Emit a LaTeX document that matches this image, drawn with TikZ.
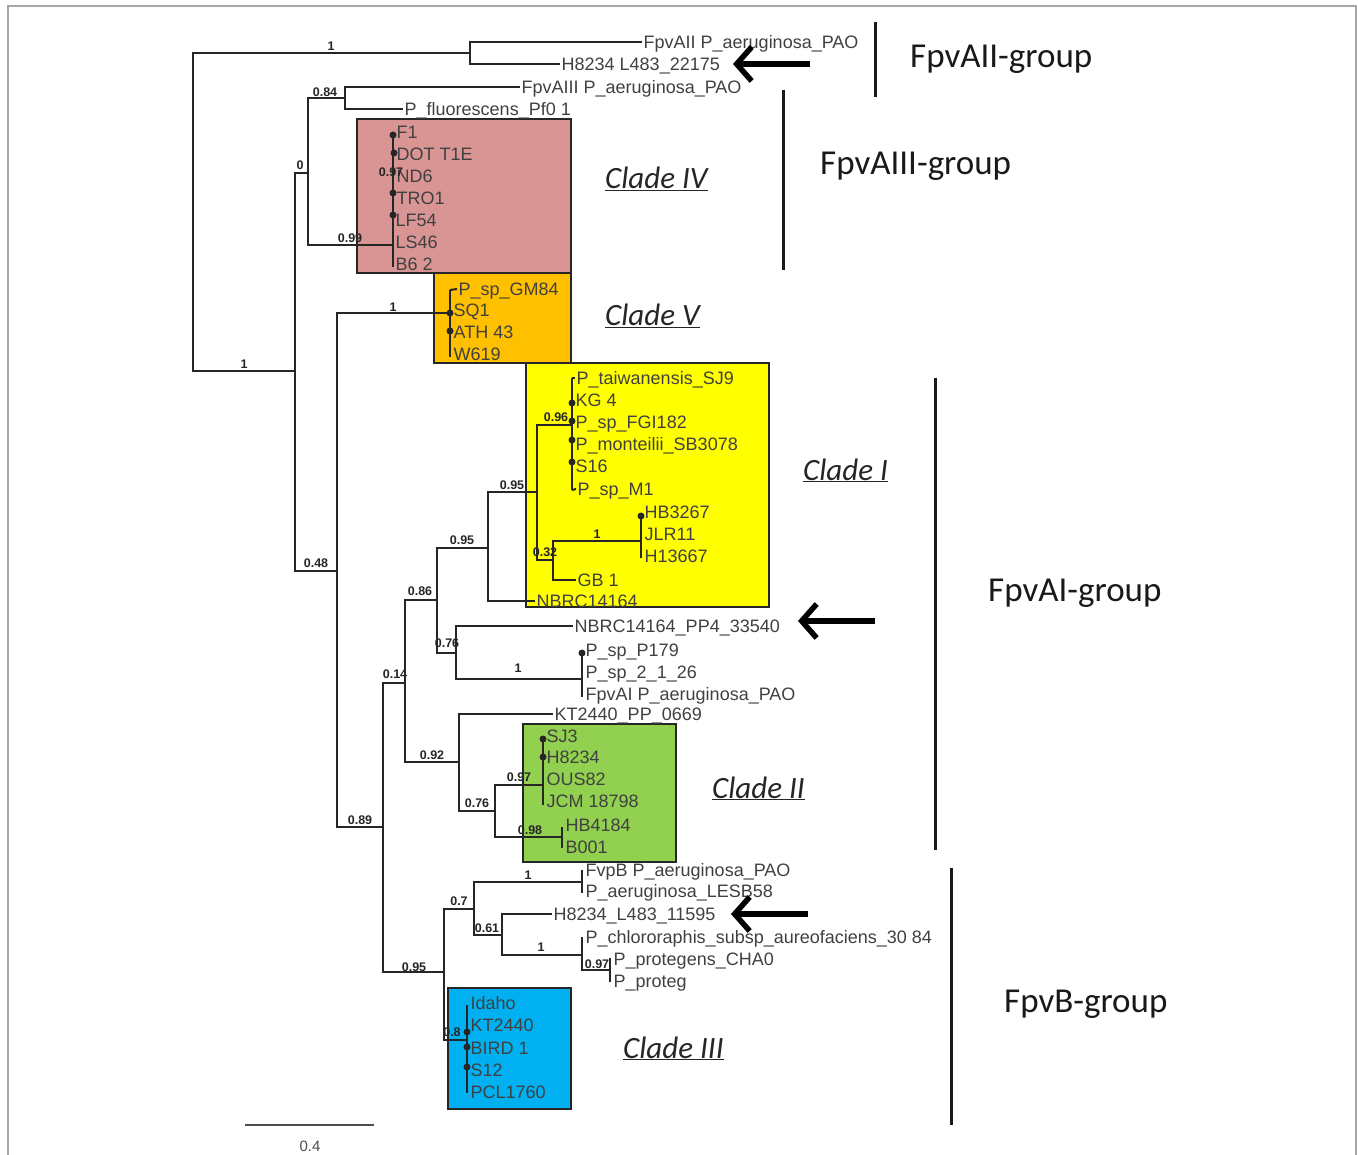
\documentclass[tikz,border=0pt]{standalone}
\usepackage{fontspec}
\setmainfont{Liberation Sans}
\newfontfamily\calfont{Carlito}
\usetikzlibrary{arrows.meta}
\begin{document}
\begin{tikzpicture}[x=1pt,y=-1pt,
  br/.style={line width=2pt, draw=black!85},
  leaf/.style={anchor=west, inner sep=1.5pt, text height=12.9pt, text depth=0pt, font=\fontsize{18}{18}\selectfont, text=black!75},
  sup/.style={font=\bfseries\fontsize{12.5}{12.5}\selectfont, inner sep=0pt, text=black!85},
  dotn/.style={circle, fill=black!85, inner sep=0pt, minimum size=7pt},
  cbox/.style={draw=black!85, line width=1.8pt},
  cladelab/.style={anchor=base west, inner sep=0pt, font=\calfont\itshape\fontsize{31}{31}\selectfont, text=black!85},
  grplab/.style={anchor=base west, inner sep=0pt, font=\calfont\fontsize{35}{35}\selectfont, text=black!90},
  grpbar/.style={line width=3pt, draw=black!90},
  bigarrow/.style={line width=5.5pt, draw=black, -{Straight Barb[length=15pt,width=34pt]}}
]
\useasboundingbox (0,0) rectangle (1358,1155);
% frame
\draw[gray!70, line width=2pt] (8,1170) -- (8,6) -- (1356,6) -- (1356,1170);

% clade boxes
\draw[cbox, fill={rgb,255:red,217;green,149;blue,148}] (357,119) rectangle (571,273);
\draw[cbox, fill={rgb,255:red,255;green,192;blue,0}] (434,273) rectangle (571,363);
\draw[cbox, fill={rgb,255:red,255;green,255;blue,0}] (526,363) rectangle (769,607);
\draw[cbox, fill={rgb,255:red,146;green,208;blue,80}] (523,724) rectangle (676,862);
\draw[cbox, fill={rgb,255:red,0;green,176;blue,240}] (448,988) rectangle (571,1109);

% internal node coordinates
\coordinate (R) at (193,213);
\coordinate (n1) at (470,53);
\coordinate (n2) at (295,371);
\coordinate (n3) at (308,173);
\coordinate (n5) at (345,98);
\coordinate (n6) at (393,245);
\coordinate (n6t) at (393,133); \coordinate (n6b) at (393,267);
\coordinate (n4) at (337,571);
\coordinate (n7) at (450,313);
\coordinate (n7t) at (450,290); \coordinate (n7b) at (450,357);
\coordinate (n8) at (383,827);
\coordinate (n9) at (405,683);
\coordinate (n11) at (437,600);
\coordinate (n13) at (488,548);
\coordinate (n15) at (537,492);
\coordinate (n16) at (572,425);
\coordinate (n16t) at (572,378); \coordinate (n16b) at (572,490);
\coordinate (n17) at (553,560);
\coordinate (n18) at (641,541);
\coordinate (n18t) at (641,516); \coordinate (n18b) at (641,558);
\coordinate (n14) at (456,653);
\coordinate (n19) at (582,679);
\coordinate (n19t) at (582,653); \coordinate (n19b) at (582,697);
\coordinate (n12) at (459,762);
\coordinate (n20) at (495,811);
\coordinate (n21) at (543,785);
\coordinate (n21t) at (543,739); \coordinate (n21b) at (543,805);
\coordinate (n22) at (562,837);
\coordinate (n22t) at (562,827); \coordinate (n22b) at (562,848);
\coordinate (n10) at (444,972);
\coordinate (n23) at (474,909);
\coordinate (n25) at (582,882);
\coordinate (n25t) at (582,870); \coordinate (n25b) at (582,893);
\coordinate (n26) at (502,935);
\coordinate (n27) at (582,955);
\coordinate (n27t) at (582,937);
\coordinate (n28) at (610,970);
\coordinate (n28t) at (610,958); \coordinate (n28b) at (610,982);
\coordinate (n24) at (467,1040);
\coordinate (n24t) at (467,1005); \coordinate (n24b) at (467,1093);

% leaves
\node[leaf] (l1) at (642,42) {FpvAII P\_aeruginosa\_PAO};
\node[leaf] (l2) at (560,64) {H8234 L483\_22175};
\node[leaf] (l3) at (520,87) {FpvAIII P\_aeruginosa\_PAO};
\node[leaf] (l4) at (403,109) {P\_fluorescens\_Pf0 1};
\node[leaf] (c4a) at (395,132) {F1};
\node[leaf] (c4b) at (395,154) {DOT T1E};
\node[leaf] (c4c) at (395,176) {ND6};
\node[leaf] (c4d) at (395,198) {TRO1};
\node[leaf] (c4e) at (394,220) {LF54};
\node[leaf] (c4f) at (394,242) {LS46};
\node[leaf] (c4g) at (394,264) {B6 2};
\node[leaf] (c5a) at (457,289) {P\_sp\_GM84};
\node[leaf] (c5b) at (452,310) {SQ1};
\node[leaf] (c5c) at (452,332) {ATH 43};
\node[leaf] (c5d) at (452,354) {W619};
\node[leaf] (c1a) at (575,378) {P\_taiwanensis\_SJ9};
\node[leaf] (c1b) at (574,400) {KG 4};
\node[leaf] (c1c) at (574,422) {P\_sp\_FGI182};
\node[leaf] (c1d) at (574,444) {P\_monteilii\_SB3078};
\node[leaf] (c1e) at (574,466) {S16};
\node[leaf] (c1f) at (576,489) {P\_sp\_M1};
\node[leaf] (c1g) at (643,512) {HB3267};
\node[leaf] (c1h) at (643,534) {JLR11};
\node[leaf] (c1i) at (643,556) {H13667};
\node[leaf] (l5) at (576,580) {GB 1};
\node[leaf] (l6) at (535,601) {NBRC14164};
\node[leaf] (l7) at (573,626) {NBRC14164\_PP4\_33540};
\node[leaf] (m1) at (584,650) {P\_sp\_P179};
\node[leaf] (m2) at (584,672) {P\_sp\_2\_1\_26};
\node[leaf] (m3) at (584,694) {FpvAI P\_aeruginosa\_PAO};
\node[leaf] (l8) at (553,714) {KT2440\_PP\_0669};
\node[leaf] (c2a) at (545,736) {SJ3};
\node[leaf] (c2b) at (545,757) {H8234};
\node[leaf] (c2c) at (545,779) {OUS82};
\node[leaf] (c2d) at (545,801) {JCM 18798};
\node[leaf] (c2e) at (564,825) {HB4184};
\node[leaf] (c2f) at (564,847) {B001};
\node[leaf] (b1) at (584,870) {FvpB P\_aeruginosa\_PAO};
\node[leaf] (b2) at (584,891) {P\_aeruginosa\_LESB58};
\node[leaf] (l9) at (552,914) {H8234\_L483\_11595};
\node[leaf] (b3) at (584,937) {P\_chlororaphis\_subsp\_aureofaciens\_30 84};
\node[leaf] (b4) at (612,959) {P\_protegens\_CHA0};
\node[leaf] (b5) at (612,981) {P\_proteg};
\node[leaf] (c3a) at (469,1003) {Idaho};
\node[leaf] (c3b) at (469,1025) {KT2440};
\node[leaf] (c3c) at (469,1048) {BIRD 1};
\node[leaf] (c3d) at (469,1070) {S12};
\node[leaf] (c3e) at (469,1092) {PCL1760};

% branches
\draw[br] (R) |- (n1);
\draw[br] (R) |- (n2);
\draw[br] (n1) |- (l1.west);
\draw[br] (n1) |- (l2.west);
\draw[br] (n2) |- (n3);
\draw[br] (n2) |- (n4);
\draw[br] (n3) |- (n5);
\draw[br] (n3) |- (n6);
\draw[br] (n5) |- (l3.west);
\draw[br] (n5) |- (l4.west);
\draw[br] (n6t) -- (n6b);
\draw[br] (n4) |- (n7);
\draw[br] (n4) |- (n8);
\draw[br] (n7t) -- (n7b);
\draw[br] (n7t) -- (c5a.west);
\draw[br] (n8) |- (n9);
\draw[br] (n8) |- (n10);
\draw[br] (n9) |- (n11);
\draw[br] (n9) |- (n12);
\draw[br] (n11) |- (n13);
\draw[br] (n11) |- (n14);
\draw[br] (n13) |- (n15);
\draw[br] (n13) |- (l6.west);
\draw[br] (n15) |- (n16);
\draw[br] (n15) |- (n17);
\draw[br] (n16t) -- (n16b);
\draw[br] (n16t) -- (c1a.west);
\draw[br] (n16b) -- (c1f.west);
\draw[br] (n17) |- (n18);
\draw[br] (n17) |- (l5.west);
\draw[br] (n18t) -- (n18b);
\draw[br] (n14) |- (l7.west);
\draw[br] (n14) |- (n19);
\draw[br] (n19t) -- (n19b);
\draw[br] (n12) |- (l8.west);
\draw[br] (n12) |- (n20);
\draw[br] (n20) |- (n21);
\draw[br] (n20) |- (n22);
\draw[br] (n21t) -- (n21b);
\draw[br] (n22t) -- (n22b);
\draw[br] (n10) |- (n23);
\draw[br] (n10) |- (n24);
\draw[br] (n23) |- (n25);
\draw[br] (n23) |- (n26);
\draw[br] (n25t) -- (n25b);
\draw[br] (n26) |- (l9.west);
\draw[br] (n26) |- (n27);
\draw[br] (n27) -- (n27t);
\draw[br] (n27) |- (n28);
\draw[br] (n28t) -- (n28b);
\draw[br] (n24t) -- (n24b);

% dots
\foreach \p [count=\i] in {(393,135),(394,153),(393,193),(393,215),(450,313),(450,331),(572,403),(572,421),(572,440),(572,462),(641,516),(582,653),(543,739),(543,757),(467,1032),(467,1047),(467,1067)}
  \node[dotn] (d\i) at \p {};

% support values
\node[sup] (s1) at (331,46) {1};
\node[sup] (s2) at (325,92) {0.84};
\node[sup] (s3) at (300,165) {0};
\node[sup] (s4) at (391,172) {0.97};
\node[sup] (s5) at (350,238) {0.99};
\node[sup] (s6) at (393,307) {1};
\node[sup] (s7) at (244,364) {1};
\node[sup] (s8) at (316,563) {0.48};
\node[sup] (s9) at (556,417) {0.96};
\node[sup] (s10) at (512,485) {0.95};
\node[sup] (s11) at (462,540) {0.95};
\node[sup] (s12) at (545,552) {0.32};
\node[sup] (s13) at (597,534) {1};
\node[sup] (s14) at (420,591) {0.86};
\node[sup] (s15) at (447,643) {0.76};
\node[sup] (s16) at (518,668) {1};
\node[sup] (s17) at (395,674) {0.14};
\node[sup] (s18) at (432,755) {0.92};
\node[sup] (s19) at (519,777) {0.97};
\node[sup] (s20) at (477,803) {0.76};
\node[sup] (s21) at (530,830) {0.98};
\node[sup] (s22) at (360,820) {0.89};
\node[sup] (s23) at (528,875) {1};
\node[sup] (s24) at (459,901) {0.7};
\node[sup] (s25) at (487,928) {0.61};
\node[sup] (s26) at (541,947) {1};
\node[sup] (s27) at (597,964) {0.97};
\node[sup] (s28) at (414,967) {0.95};
\node[sup] (s29) at (452,1032) {0.8};

% clade labels
\node[cladelab] (cl4) at (605,189) {\underline{Clade IV}};
\node[cladelab] (cl5) at (605,326) {\underline{Clade V}};
\node[cladelab] (cl1) at (803,480) {\underline{Clade I}};
\node[cladelab] (cl2) at (712,798) {\underline{Clade II}};
\node[cladelab] (cl3) at (623,1058) {\underline{Clade III}};

% group bars and labels
\coordinate (g1t) at (875,22); \coordinate (g1b) at (875,97);
\coordinate (g2t) at (783,90); \coordinate (g2b) at (783,270);
\coordinate (g3t) at (935,378); \coordinate (g3b) at (935,850);
\coordinate (g4t) at (951,868); \coordinate (g4b) at (951,1125);
\draw[grpbar] (g1t) -- (g1b);
\draw[grpbar] (g2t) -- (g2b);
\draw[grpbar] (g3t) -- (g3b);
\draw[grpbar] (g4t) -- (g4b);
\node[grplab] (gl1) at (910,68) {FpvAII-group};
\node[grplab] (gl2) at (820,175) {FpvAIII-group};
\node[grplab] (gl3) at (988,601) {FpvAI-group};
\node[grplab] (gl4) at (1004,1012) {FpvB-group};

% arrows
\coordinate (a1s) at (810,64); \coordinate (a1e) at (733,64);
\coordinate (a2s) at (875,621); \coordinate (a2e) at (798,621);
\coordinate (a3s) at (808,914); \coordinate (a3e) at (731,914);
\draw[bigarrow] (a1s) -- (a1e);
\draw[bigarrow] (a2s) -- (a2e);
\draw[bigarrow] (a3s) -- (a3e);

% scale bar
\coordinate (sb1) at (245,1125); \coordinate (sb2) at (374,1125);
\draw[line width=2pt, draw=black!70] (sb1) -- (sb2);
\node[font=\fontsize{15}{15}\selectfont, text=black!70] (sbl) at (310,1146) {0.4};
\end{tikzpicture}
\end{document}
